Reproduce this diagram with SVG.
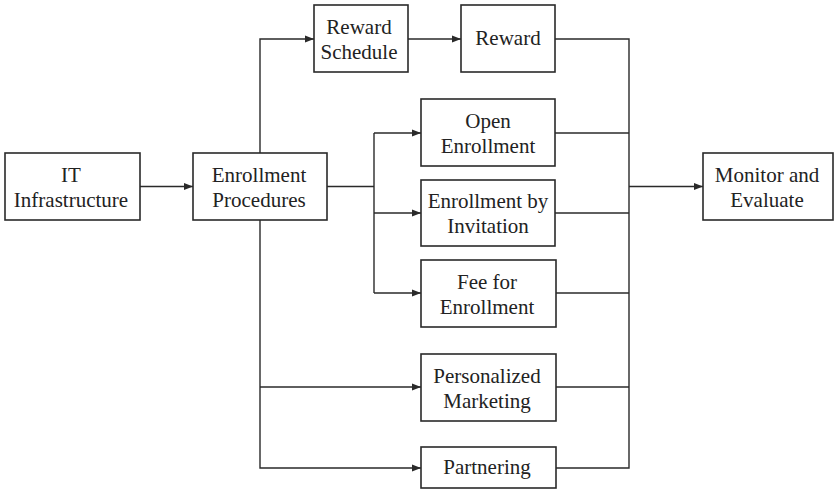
<svg xmlns="http://www.w3.org/2000/svg" width="834" height="491" viewBox="0 0 834 491">
<style>
.box{fill:#fff;stroke:#2a2a2a;stroke-width:1.6}
.c{fill:none;stroke:#2a2a2a;stroke-width:1.4}
</style>
<defs>
<marker id="ah" markerWidth="9" markerHeight="8" refX="9" refY="4" orient="auto" markerUnits="userSpaceOnUse">
<path d="M0,0.5 L9,4 L0,7.5 Z" fill="#2a2a2a"/>
</marker>
</defs>
<rect width="834" height="491" fill="#fff"/>
<g id="connectors">
<path class="c" d="M140,186.5 H193" marker-end="url(#ah)"/>
<path class="c" d="M260,153 V39 H314" marker-end="url(#ah)"/>
<path class="c" d="M408,39 H461" marker-end="url(#ah)"/>
<path class="c" d="M327,186.5 H374"/>
<path class="c" d="M374,133 V293"/>
<path class="c" d="M374,133 H421" marker-end="url(#ah)"/>
<path class="c" d="M374,213 H421" marker-end="url(#ah)"/>
<path class="c" d="M374,293 H421" marker-end="url(#ah)"/>
<path class="c" d="M260,220 V468 H421" marker-end="url(#ah)"/>
<path class="c" d="M260,387 H421" marker-end="url(#ah)"/>
<path class="c" d="M555,39 H629 V468 H556"/>
<path class="c" d="M555,133 H629"/>
<path class="c" d="M555,213 H629"/>
<path class="c" d="M556,293 H629"/>
<path class="c" d="M556,387 H629"/>
<path class="c" d="M629,186.5 H703" marker-end="url(#ah)"/>
</g>
<g id="it">
<rect class="box" x="5" y="153" width="135" height="67"/>
<text x="71" y="182" font-family="Liberation Serif" font-size="21" fill="#222" text-anchor="middle">IT</text>
<text x="71" y="207" font-family="Liberation Serif" font-size="21" fill="#222" text-anchor="middle">Infrastructure</text>
</g>
<g id="enrollment-procedures">
<rect class="box" x="193" y="153" width="134" height="67"/>
<text x="259" y="182" font-family="Liberation Serif" font-size="21" fill="#222" text-anchor="middle">Enrollment</text>
<text x="259" y="207" font-family="Liberation Serif" font-size="21" fill="#222" text-anchor="middle">Procedures</text>
</g>
<g id="reward-schedule">
<rect class="box" x="314" y="5" width="94" height="67"/>
<text x="359" y="34" font-family="Liberation Serif" font-size="21" fill="#222" text-anchor="middle">Reward</text>
<text x="359" y="59" font-family="Liberation Serif" font-size="21" fill="#222" text-anchor="middle">Schedule</text>
</g>
<g id="reward">
<rect class="box" x="461" y="5" width="94" height="67"/>
<text x="508" y="45" font-family="Liberation Serif" font-size="21" fill="#222" text-anchor="middle">Reward</text>
</g>
<g id="open-enrollment">
<rect class="box" x="421" y="99" width="134" height="67"/>
<text x="488" y="128" font-family="Liberation Serif" font-size="21" fill="#222" text-anchor="middle">Open</text>
<text x="488" y="153" font-family="Liberation Serif" font-size="21" fill="#222" text-anchor="middle">Enrollment</text>
</g>
<g id="enrollment-invitation">
<rect class="box" x="421" y="180" width="134" height="66"/>
<text x="488" y="208" font-family="Liberation Serif" font-size="21" fill="#222" text-anchor="middle">Enrollment by</text>
<text x="488" y="233" font-family="Liberation Serif" font-size="21" fill="#222" text-anchor="middle">Invitation</text>
</g>
<g id="fee-enrollment">
<rect class="box" x="421" y="260" width="135" height="67"/>
<text x="487" y="289" font-family="Liberation Serif" font-size="21" fill="#222" text-anchor="middle">Fee for</text>
<text x="487" y="314" font-family="Liberation Serif" font-size="21" fill="#222" text-anchor="middle">Enrollment</text>
</g>
<g id="personalized-marketing">
<rect class="box" x="421" y="354" width="135" height="67"/>
<text x="487" y="383" font-family="Liberation Serif" font-size="21" fill="#222" text-anchor="middle">Personalized</text>
<text x="487" y="408" font-family="Liberation Serif" font-size="21" fill="#222" text-anchor="middle">Marketing</text>
</g>
<g id="partnering">
<rect class="box" x="421" y="447" width="135" height="41"/>
<text x="487" y="474" font-family="Liberation Serif" font-size="21" fill="#222" text-anchor="middle">Partnering</text>
</g>
<g id="monitor">
<rect class="box" x="703" y="153" width="130" height="67"/>
<text x="767" y="182" font-family="Liberation Serif" font-size="21" fill="#222" text-anchor="middle">Monitor and</text>
<text x="767" y="207" font-family="Liberation Serif" font-size="21" fill="#222" text-anchor="middle">Evaluate</text>
</g>
</svg>
